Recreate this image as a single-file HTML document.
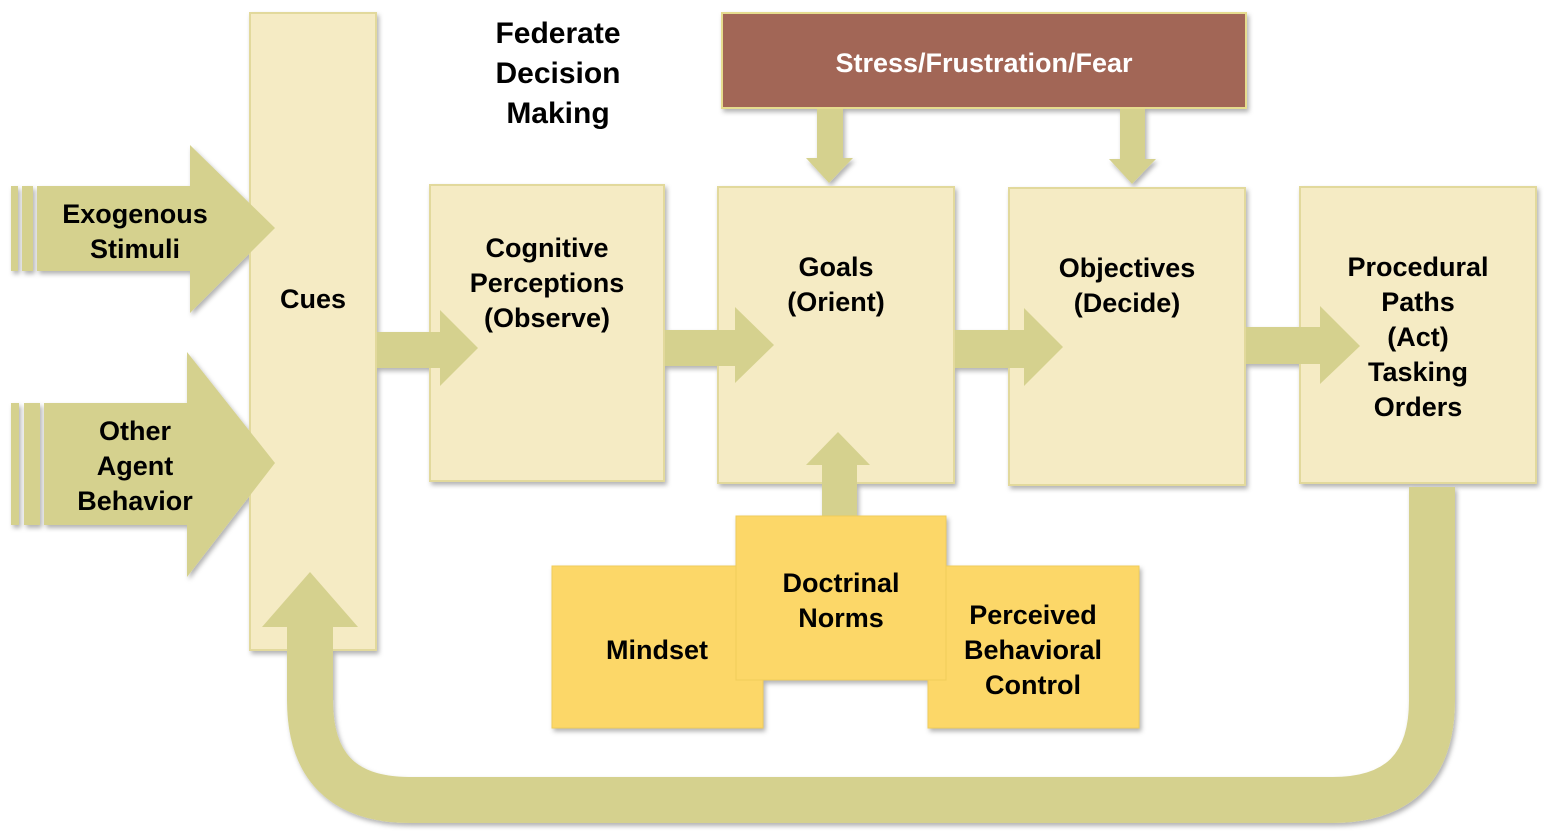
<!DOCTYPE html>
<html><head><meta charset="utf-8"><style>
html,body{margin:0;padding:0;background:#fff;}
svg{display:block;}
text{font-family:"Liberation Sans","DejaVu Sans",sans-serif;font-weight:bold;fill:#000;text-anchor:middle;}
</style></head><body>
<svg width="1547" height="836" viewBox="0 0 1547 836" xmlns="http://www.w3.org/2000/svg">
<defs>
<filter id="sh" x="-10%" y="-10%" width="130%" height="130%">
<feDropShadow dx="2" dy="3" stdDeviation="2.5" flood-color="#000" flood-opacity="0.3"/>
</filter>
</defs>
<g filter="url(#sh)">
<!-- cues -->
<rect x="250" y="13" width="126" height="637" fill="#F5EBC4" stroke="#E2D99C" stroke-width="2"/>
<!-- loop arrow -->
<path d="M1432 487 L1432 700 Q1432 800 1332 800 L410 800 Q310 800 310 700 L310 625" fill="none" stroke="#D5D18E" stroke-width="46"/>
<polygon points="262,627 358,627 310,572" fill="#D5D18E"/>
<!-- exogenous arrow -->
<rect x="11" y="186" width="7" height="85" fill="#D5D18E"/>
<rect x="22" y="186" width="11" height="85" fill="#D5D18E"/>
<polygon points="37,186 190,186 190,145 275,228 190,313 190,271 37,271" fill="#D5D18E"/>
<!-- other agent -->
<rect x="11" y="403" width="8" height="122" fill="#D5D18E"/>
<rect x="24" y="403" width="16" height="122" fill="#D5D18E"/>
<polygon points="44,403 187,403 187,352 275,463 187,577 187,525 44,525" fill="#D5D18E"/>
<!-- boxes -->
<rect x="430" y="185" width="234" height="296" fill="#F5EBC4" stroke="#E2D99C" stroke-width="2"/>
<rect x="718" y="187" width="236" height="296" fill="#F5EBC4" stroke="#E2D99C" stroke-width="2"/>
<rect x="1009" y="188" width="236" height="297" fill="#F5EBC4" stroke="#E2D99C" stroke-width="2"/>
<rect x="1300" y="187" width="236" height="296" fill="#F5EBC4" stroke="#E2D99C" stroke-width="2"/>
<rect x="722" y="13" width="524" height="95" fill="#A26656" stroke="#E6DC8E" stroke-width="2"/>
<!-- horizontal arrows -->
<polygon points="377,332 440,332 440,310 478,348 440,386 440,368 377,368" fill="#D5D18E"/>
<polygon points="665,330 735,330 735,307 774,345 735,383 735,366 665,366" fill="#D5D18E"/>
<polygon points="955,330 1024,330 1024,308 1063,347 1024,386 1024,368 955,368" fill="#D5D18E"/>
<polygon points="1246,327 1320,327 1320,306 1360,346 1320,384 1320,364 1246,364" fill="#D5D18E"/>
<!-- down arrows -->
<polygon points="817,109 843,109 843,158 853,158 829,183 806,158 817,158" fill="#D5D18E"/>
<polygon points="1120,109 1145,109 1145,159 1156,159 1132,184 1109,159 1120,159" fill="#D5D18E"/>
<!-- up arrow -->
<polygon points="822,518 857,518 857,465 870,465 838,432 806,465 822,465" fill="#D5D18E"/>
<!-- yellow boxes -->
<rect x="552" y="566" width="211" height="162" fill="#FCD767" stroke="#F0CC5A" stroke-width="1"/>
<rect x="928" y="566" width="211" height="162" fill="#FCD767" stroke="#F0CC5A" stroke-width="1"/>
<rect x="736" y="516" width="210" height="164" fill="#FCD767" stroke="#F0CC5A" stroke-width="1"/>
</g>
<g font-size="27">
<text x="558" y="43" font-size="30">Federate</text>
<text x="558" y="83" font-size="30">Decision</text>
<text x="558" y="123" font-size="30">Making</text>
<text x="984" y="72" style="fill:#fff">Stress/Frustration/Fear</text>
<text x="135" y="223">Exogenous</text>
<text x="135" y="258">Stimuli</text>
<text x="135" y="440">Other</text>
<text x="135" y="475">Agent</text>
<text x="135" y="510">Behavior</text>
<text x="313" y="308">Cues</text>
<text x="547" y="257">Cognitive</text>
<text x="547" y="292">Perceptions</text>
<text x="547" y="327">(Observe)</text>
<text x="836" y="276">Goals</text>
<text x="836" y="311">(Orient)</text>
<text x="1127" y="277">Objectives</text>
<text x="1127" y="312">(Decide)</text>
<text x="1418" y="276">Procedural</text>
<text x="1418" y="311">Paths</text>
<text x="1418" y="346">(Act)</text>
<text x="1418" y="381">Tasking</text>
<text x="1418" y="416">Orders</text>
<text x="657" y="659">Mindset</text>
<text x="841" y="592">Doctrinal</text>
<text x="841" y="627">Norms</text>
<text x="1033" y="624">Perceived</text>
<text x="1033" y="659">Behavioral</text>
<text x="1033" y="694">Control</text>
</g>
</svg>
</body></html>
